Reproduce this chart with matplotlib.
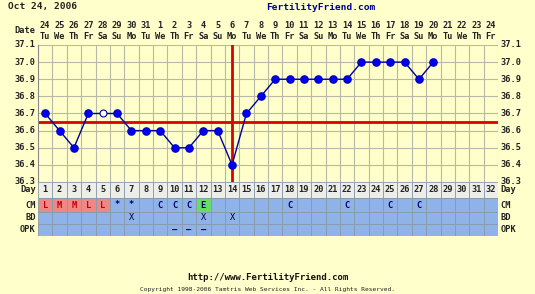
import matplotlib
matplotlib.use('Agg')
import matplotlib.pyplot as plt
from matplotlib.patches import Rectangle

# ---- chart data ----
cycle_days = list(range(1, 33))
dates = [24, 25, 26, 27, 28, 29, 30, 31] + list(range(1, 25))
weekdays = (['Tu', 'We', 'Th', 'Fr', 'Sa', 'Su', 'Mo'] * 5)[:32]
temp_days = list(range(1, 29))
temps = [36.7, 36.6, 36.5, 36.7, 36.7, 36.7, 36.6, 36.6, 36.6, 36.5,
         36.5, 36.6, 36.6, 36.4, 36.7, 36.8, 36.9, 36.9, 36.9, 36.9,
         36.9, 36.9, 37.0, 37.0, 37.0, 37.0, 36.9, 37.0]
open_days = [5]  # discarded temp (hollow marker)
coverline = 36.65
ovulation_day = 14
y_ticks = [36.3, 36.4, 36.5, 36.6, 36.7, 36.8, 36.9, 37.0, 37.1]

cm_days = [1, 2, 3, 4, 5, 6, 7, 9, 10, 11, 12, 18, 22, 25, 27]
cm_codes = ['L', 'M', 'M', 'L', 'L', '*', '*', 'C', 'C', 'C', 'E', 'C', 'C', 'C', 'C']
bd_days = [7, 12, 14]
opk_days = [10, 11, 12]

# ---- style ----
BG = '#ffffcc'
GRID = '#b8b8a8'
ROW = '#8fb2e8'
TXT = '#222222'
RED = '#dd0000'
FONT = 'DejaVu Sans Mono'
FS = 6.2

W, H = 535, 294
fig = plt.figure(figsize=(W / 100, H / 100), dpi=100, facecolor=BG)

def frac(x0, y0, x1, y1):
    return [x0 / W, 1 - y1 / H, (x1 - x0) / W, (y1 - y0) / H]

left, right, top, bottom = 38, 498, 45, 182

# ---- temperature chart ----
ax = fig.add_axes(frac(left, top, right, bottom))
ax.set_facecolor(BG)
ax.set_xlim(0.5, 32.5)
ax.set_ylim(36.3, 37.1)
for d in range(1, 33):
    ax.axvline(d + 0.5, color=GRID, lw=0.8, zorder=1)
for t in y_ticks:
    ax.axhline(t, color=GRID, lw=0.8, zorder=1)
ax.set_xticks([])
ax.set_yticks([])
for s in ax.spines.values():
    s.set_visible(False)
ax.spines['left'].set_visible(True)
ax.spines['left'].set_color('#888888')

ax.axhline(coverline, color=RED, lw=2, zorder=2)
ax.axvline(ovulation_day, color=RED, lw=2, zorder=2)
ax.plot(temp_days, temps, color='#000099', lw=1, zorder=3)
filled = [(d, t) for d, t in zip(temp_days, temps) if d not in open_days]
ax.plot([d for d, _ in filled], [t for _, t in filled], 'o', ms=5.2,
        color='#0000ee', mec='#0000cc', zorder=4, ls='none')
hollow = [(d, t) for d, t in zip(temp_days, temps) if d in open_days]
ax.plot([d for d, _ in hollow], [t for _, t in hollow], 'o', ms=5,
        mfc='white', mec='#000099', mew=0.8, zorder=4, ls='none')

for t in y_ticks:
    ax.text(-0.005, t, f'{t:.1f}', transform=ax.get_yaxis_transform(),
            ha='right', va='center', fontsize=FS, family=FONT,
            fontweight='bold', color=TXT)
    ax.text(1.006, t, f'{t:.1f}', transform=ax.get_yaxis_transform(),
            ha='left', va='center', fontsize=FS, family=FONT,
            fontweight='bold', color=TXT)

# date header above the chart
for d, dt, wd in zip(cycle_days, dates, weekdays):
    ax.text(d, 37.1 + 0.8 * 19 / 137, str(dt), ha='center', va='center',
            fontsize=FS, family=FONT, fontweight='bold', color=TXT, clip_on=False)
    ax.text(d, 37.1 + 0.8 * 8 / 137, wd, ha='center', va='center',
            fontsize=FS, family=FONT, fontweight='bold', color=TXT, clip_on=False)
ax.text(0.3, 37.1 + 0.8 * 14 / 137, 'Date', ha='right', va='center',
        fontsize=FS, family=FONT, fontweight='bold', color=TXT, clip_on=False)

# ---- bottom table ----
tb = fig.add_axes(frac(left, bottom, right, 236))
tb.set_xlim(0.5, 32.5)
tb.set_ylim(54, 0)
tb.axis('off')
rows = [('Day', 0, 16), ('CM', 16, 30), ('BD', 30, 42), ('OPK', 42, 54)]
for name, y0, y1 in rows:
    fc = '#eeeee8' if name == 'Day' else ROW
    for d in cycle_days:
        c = fc
        if name == 'CM' and d in cm_days:
            code = cm_codes[cm_days.index(d)]
            if code in ('L', 'M'):
                c = '#ee8888'
            elif code == 'E':
                c = '#66dd66'
        tb.add_patch(Rectangle((d - 0.5, y0), 1, y1 - y0, fc=c,
                               ec='#8899aa', lw=0.6))
    tb.text(0.35, (y0 + y1) / 2, name, ha='right', va='center', fontsize=FS,
            family=FONT, fontweight='bold', color=TXT)
    tb.text(32.65, (y0 + y1) / 2, name, ha='left', va='center', fontsize=FS,
            family=FONT, fontweight='bold', color=TXT)

for d in cycle_days:
    tb.text(d, 8, str(d), ha='center', va='center', fontsize=FS,
            family=FONT, fontweight='bold', color=TXT)
for d, code in zip(cm_days, cm_codes):
    col = '#cc0000' if code in ('L', 'M') else '#000066'
    tb.text(d, 23, code, ha='center', va='center', fontsize=FS,
            family=FONT, fontweight='bold', color=col)
for d in bd_days:
    tb.text(d, 36, 'X', ha='center', va='center', fontsize=FS,
            family=FONT, color='#000033')
for d in opk_days:
    tb.text(d, 48, '\u2013', ha='center', va='center', fontsize=FS,
            family=FONT, fontweight='bold', color='#000033')

# ---- titles / footer ----
fig.text(8 / W, 1 - 7 / H, 'Oct 24, 2006', ha='left', va='center',
         fontsize=6.8, family=FONT, fontweight='bold', color=TXT)
fig.text(266 / W, 1 - 7 / H, 'FertilityFriend.com', ha='left', va='center',
         fontsize=6.8, family=FONT, fontweight='bold', color='#000099')
fig.text(268 / W, 1 - 278 / H, 'http://www.FertilityFriend.com', ha='center',
         va='center', fontsize=6.5, family=FONT, fontweight='bold', color='#111111')
fig.text(268 / W, 1 - 289 / H,
         'Copyright 1998-2006 Tamtris Web Services Inc. - All Rights Reserved.',
         ha='center', va='center', fontsize=4.5, family=FONT, color='#222222')

fig.savefig('out.png', dpi=100, facecolor=BG)
